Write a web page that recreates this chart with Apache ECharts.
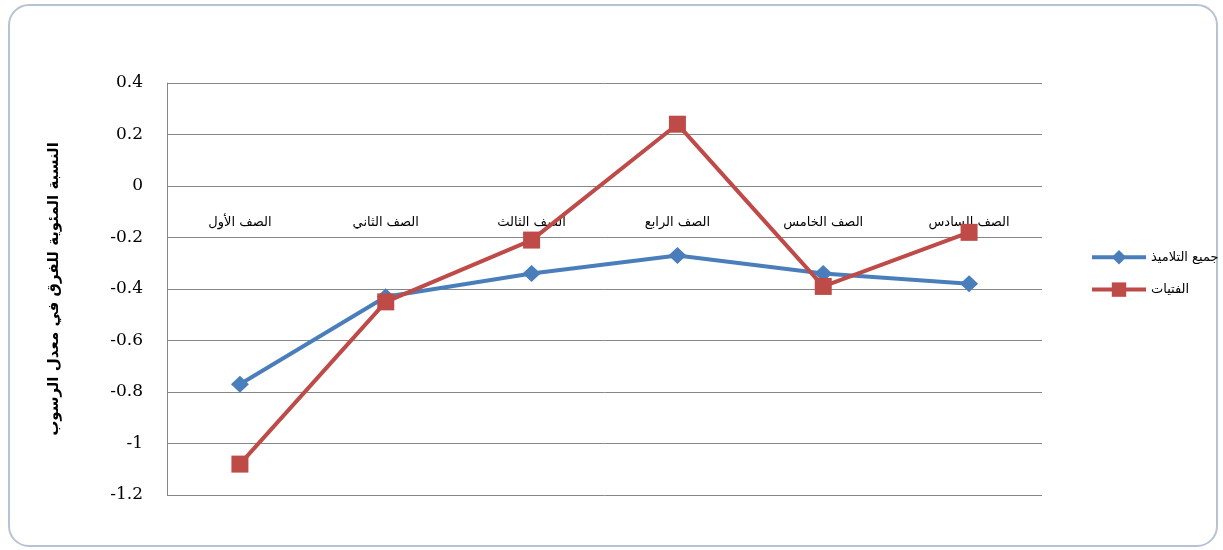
<!DOCTYPE html>
<html>
<head>
<meta charset="utf-8">
<script src="https://cdn.jsdelivr.net/npm/echarts@6/dist/echarts.min.js"></script>
<style>
html,body{margin:0;padding:0;background:#fff;}
#c{width:1223px;height:550px;}
</style>
</head>
<body>
<div id="c"></div>
<script>
var categories = ['الصف الأول', 'الصف الثاني', 'الصف الثالث', 'الصف الرابع', 'الصف الخامس', 'الصف السادس'];
var allStudents = [-0.77, -0.43, -0.34, -0.27, -0.34, -0.38];
var girls = [-1.08, -0.45, -0.21, 0.24, -0.39, -0.18];
var seriesNames = ['جميع التلاميذ', 'الفتيات'];
var yTitle = 'النسبة المئوية للفرق في معدل الرسوب';

var chart = echarts.init(document.getElementById('c'));
chart.setOption({
  animation: false,
  backgroundColor: '#fff',
  graphic: [{
    type: 'rect',
    left: 8, top: 4,
    shape: {width: 1208, height: 541, r: 20},
    style: {fill: '#fff', stroke: '#b7c3d3', lineWidth: 2},
    z: -10, silent: true
  }],
  grid: {left: 167, right: 181, top: 83, bottom: 55},
  legend: {
    orient: 'vertical',
    left: 1085, top: 245,
    itemWidth: 54, itemHeight: 18, itemGap: 18,
    lineStyle: {width: 4},
    textStyle: {fontFamily: '"DejaVu Sans", sans-serif', fontSize: 13, color: '#000'},
    data: [seriesNames[0], seriesNames[1]]
  },
  xAxis: {
    type: 'category',
    data: categories,
    position: 'top',
    offset: -152,
    boundaryGap: true,
    axisLine: {show: false},
    axisTick: {show: false},
    axisLabel: {margin: 6, fontFamily: '"DejaVu Sans", sans-serif', fontSize: 13, color: '#000'},
    splitLine: {show: false}
  },
  yAxis: {
    type: 'value',
    min: -1.2, max: 0.4, interval: 0.2,
    name: yTitle,
    nameLocation: 'middle',
    nameRotate: 90,
    nameGap: 105,
    nameTextStyle: {fontFamily: '"DejaVu Sans", sans-serif', fontSize: 15, fontWeight: 'bold', color: '#000'},
    axisLine: {show: true, lineStyle: {color: '#868686', width: 1}},
    axisTick: {show: false},
    axisLabel: {
      margin: 24, fontFamily: 'Georgia, "DejaVu Serif", serif', fontSize: 17, color: '#000',
      formatter: function (v) { return String(Math.round(v * 10) / 10); }
    },
    splitLine: {show: true, lineStyle: {color: '#868686', width: 1}}
  },
  series: [
    {
      name: seriesNames[0], type: 'line', data: allStudents,
      symbol: 'diamond', symbolSize: [18, 17],
      lineStyle: {color: '#4a7ebb', width: 4},
      itemStyle: {color: '#4a7ebb'},
      z: 2
    },
    {
      name: seriesNames[1], type: 'line', data: girls,
      symbol: 'rect', symbolSize: 17,
      lineStyle: {color: '#be4b48', width: 4},
      itemStyle: {color: '#be4b48'},
      z: 3
    }
  ]
});
</script>
</body>
</html>
